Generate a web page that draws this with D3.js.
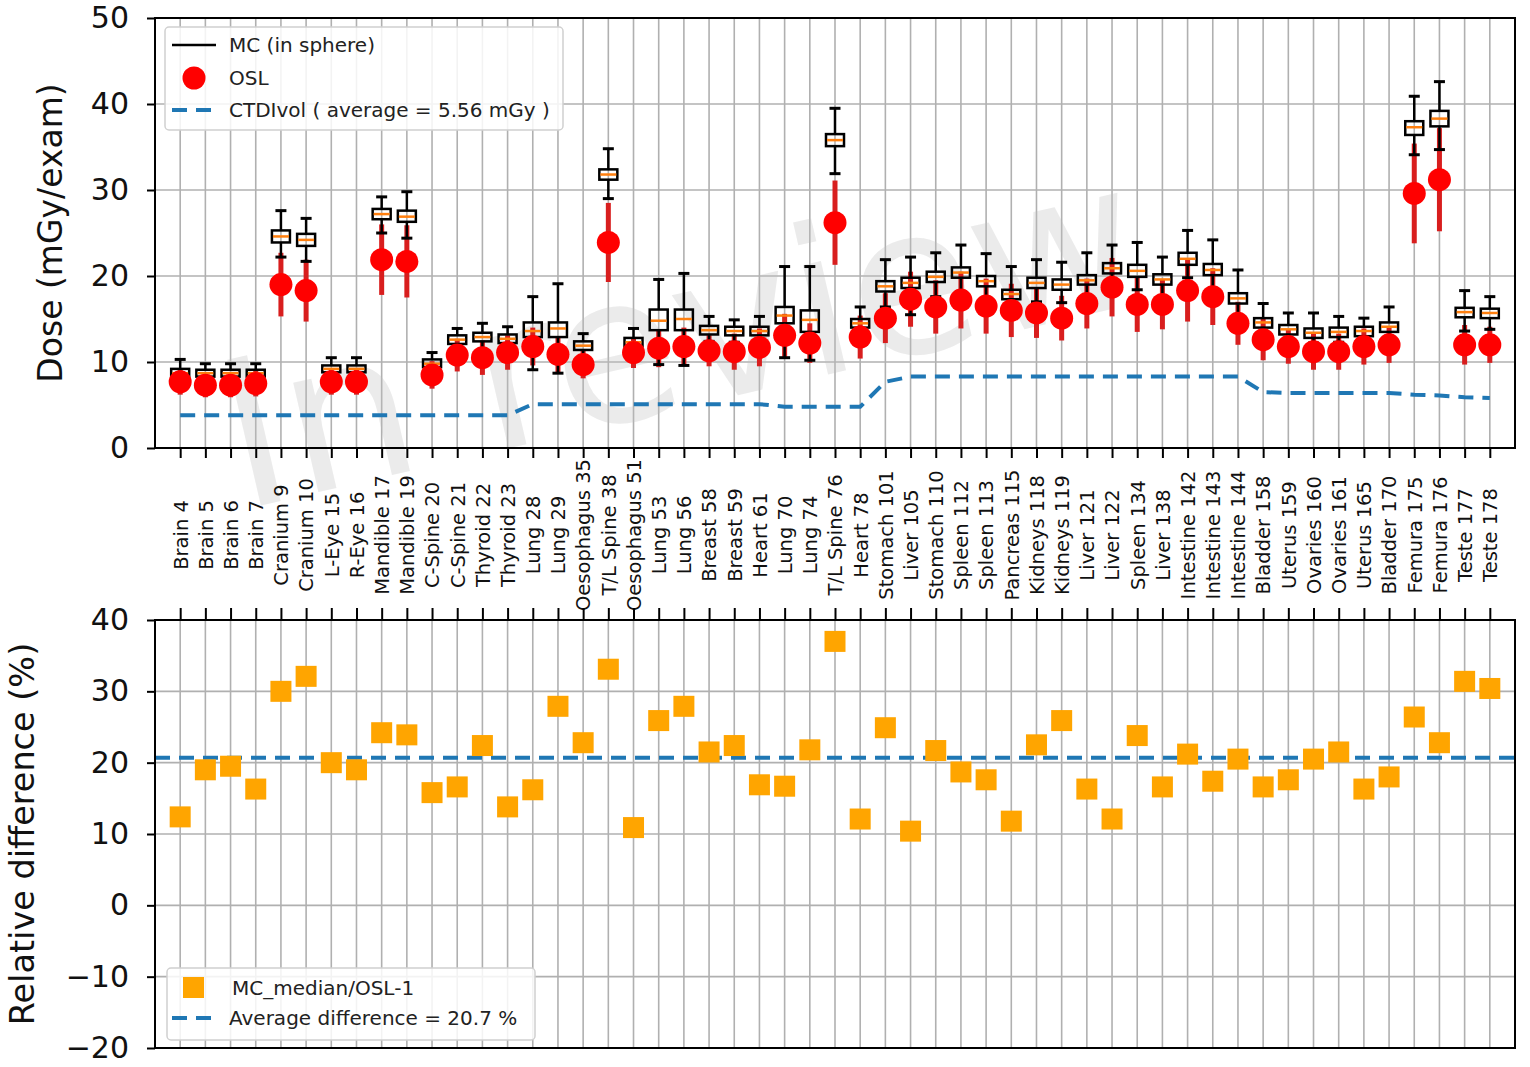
<!DOCTYPE html>
<html><head><meta charset="utf-8">
<script src="https://cdn.jsdelivr.net/npm/d3@7"></script>
<style>body{margin:0;background:#fff;} svg{display:block;} text{font-family:"DejaVu Sans",sans-serif;}</style>
</head><body><svg id="c" width="1530" height="1067"></svg>
<script>
const categories = ["Brain 4","Brain 5","Brain 6","Brain 7","Cranium 9","Cranium 10","L-Eye 15","R-Eye 16","Mandible 17","Mandible 19","C-Spine 20","C-Spine 21","Thyroid 22","Thyroid 23","Lung 28","Lung 29","Oesophagus 35","T/L Spine 38","Oesophagus 51","Lung 53","Lung 56","Breast 58","Breast 59","Heart 61","Lung 70","Lung 74","T/L Spine 76","Heart 78","Stomach 101","Liver 105","Stomach 110","Spleen 112","Spleen 113","Pancreas 115","Kidneys 118","Kidneys 119","Liver 121","Liver 122","Spleen 134","Liver 138","Intestine 142","Intestine 143","Intestine 144","Bladder 158","Uterus 159","Ovaries 160","Ovaries 161","Uterus 165","Bladder 170","Femura 175","Femura 176","Teste 177","Teste 178"];
const osl = [7.7,7.3,7.3,7.5,19.0,18.3,7.7,7.7,21.9,21.7,8.5,10.8,10.5,11.1,11.8,10.9,9.7,23.9,11.1,11.6,11.8,11.3,11.2,11.7,13.1,12.2,26.2,12.9,15.1,17.3,16.4,17.2,16.5,16.0,15.7,15.1,16.8,18.7,16.7,16.7,18.3,17.6,14.5,12.6,11.8,11.2,11.2,11.8,12.0,29.6,31.2,12.0,12.0];
const oslErr = [1.5,1.4,1.4,1.5,3.7,3.6,1.5,1.5,4.1,4.2,1.6,1.9,2.0,2.0,2.2,2.1,1.6,4.6,1.8,2.2,2.2,1.8,2.1,2.2,2.5,2.3,4.9,2.5,2.9,3.2,3.1,3.3,3.2,3.1,2.9,2.6,2.9,3.4,3.2,2.9,3.6,3.3,2.5,2.4,2.0,2.1,2.1,2.1,2.1,5.8,6.0,2.3,2.1];
const mcMedian = [8.7,8.7,8.7,8.7,24.6,24.2,9.2,9.2,27.2,26.9,9.8,12.6,12.9,12.7,13.6,13.9,11.9,31.8,12.3,14.8,15.0,13.7,13.6,13.6,15.4,14.9,35.8,14.5,18.8,19.2,19.9,20.4,19.4,17.9,19.2,19.0,19.5,20.9,20.6,19.6,22.0,20.7,17.4,14.6,13.8,13.4,13.5,13.6,14.1,37.3,38.3,15.8,15.7];
const mcQ1 = [8.3,8.3,8.3,8.3,23.9,23.5,8.8,8.8,26.6,26.3,9.4,12.1,12.4,12.2,12.9,12.9,11.4,31.2,11.8,13.7,13.7,13.2,13.1,13.1,14.5,13.5,35.1,14.0,18.2,18.6,19.3,19.8,18.8,17.3,18.6,18.4,19.0,20.3,19.9,19.0,21.3,20.1,16.8,14.0,13.2,12.8,12.9,13.0,13.5,36.4,37.4,15.2,15.1];
const mcQ3 = [9.2,9.1,9.1,9.1,25.3,24.9,9.6,9.6,27.8,27.6,10.3,13.1,13.4,13.2,14.6,14.6,12.4,32.4,12.8,16.1,16.1,14.2,14.1,14.1,16.4,16.0,36.5,15.0,19.4,19.8,20.5,21.0,20.0,18.4,19.8,19.6,20.1,21.5,21.3,20.2,22.7,21.4,18.0,15.1,14.3,13.9,14.0,14.1,14.6,38.0,39.2,16.3,16.2];
const mcLow = [7.4,7.3,7.3,7.4,22.2,21.7,8.0,8.0,25.0,24.4,8.6,11.3,11.4,11.3,9.1,8.7,10.6,29.0,10.9,9.7,9.6,12.4,12.3,12.2,10.5,10.2,31.9,13.0,16.4,15.5,17.6,18.2,17.2,15.6,17.0,16.9,17.5,19.0,18.4,17.6,19.8,18.4,15.4,13.0,12.5,12.2,12.3,12.5,12.8,34.1,34.7,13.6,13.8];
const mcHigh = [10.3,9.8,9.8,9.8,27.6,26.7,10.5,10.5,29.2,29.8,11.1,13.9,14.5,14.1,17.6,19.1,13.3,34.8,13.9,19.6,20.3,15.3,14.9,15.3,21.1,21.1,39.5,16.4,21.9,22.2,22.7,23.6,22.6,21.1,21.9,21.6,22.7,23.6,23.9,22.2,25.3,24.2,20.7,16.8,15.7,15.7,15.3,15.1,16.4,40.9,42.6,18.3,17.6];
const ctdiVol = [3.8,3.8,3.8,3.8,3.8,3.8,3.8,3.8,3.8,3.8,3.8,3.8,3.8,3.8,5.1,5.1,5.1,5.1,5.1,5.1,5.1,5.1,5.1,5.1,4.8,4.8,4.8,4.8,7.7,8.3,8.3,8.3,8.3,8.3,8.3,8.3,8.3,8.3,8.3,8.3,8.3,8.3,8.3,6.5,6.4,6.4,6.4,6.4,6.4,6.2,6.1,5.9,5.8];
const relDiff = [12.4,19.0,19.5,16.3,30.0,32.1,20.0,19.0,24.2,23.9,15.8,16.6,22.4,13.8,16.2,27.9,22.8,33.1,10.9,25.9,27.9,21.5,22.4,16.9,16.7,21.8,37.0,12.1,24.9,10.4,21.7,18.7,17.6,11.8,22.5,25.9,16.3,12.1,23.8,16.6,21.2,17.4,20.5,16.6,17.6,20.5,21.5,16.3,18.0,26.4,22.8,31.4,30.4];
const avgDiff = 20.7;
const topTicks = [0,10,20,30,40,50];
const botTicks = [-20,-10,0,10,20,30,40];
const legendTop = ["MC (in sphere)","OSL","CTDIvol ( average = 5.56 mGy )"];
const legendBot = ["MC_median/OSL-1","Average difference = 20.7 %"];

const svg = d3.select("#c");
const L = 155, R = 1515;
const x = d3.scalePoint().domain(categories).range([L, R]).padding(1);
const yT = d3.scaleLinear().domain([0, 50]).range([448, 18]);
const yB = d3.scaleLinear().domain([-20, 40]).range([1048, 620]);
const GRID = "#b0b0b0", BLUE = "#1f77b4";

function grid(y, ticks) {
  const g = svg.append("g");
  g.selectAll(".v").data(categories).join("line")
    .attr("x1", d => x(d)).attr("x2", d => x(d))
    .attr("y1", y.range()[1]).attr("y2", y.range()[0])
    .attr("stroke", GRID).attr("stroke-width", 1.6);
  g.selectAll(".h").data(ticks).join("line")
    .attr("x1", L).attr("x2", R).attr("y1", d => y(d)).attr("y2", d => y(d))
    .attr("stroke", GRID).attr("stroke-width", 1.6);
}
function frame(y) {
  svg.append("rect").attr("x", L).attr("y", y.range()[1]).attr("width", R - L)
    .attr("height", y.range()[0] - y.range()[1]).attr("fill", "none")
    .attr("stroke", "#000").attr("stroke-width", 2);
}
function leftAxis(y, ticks) {
  const g = svg.append("g").attr("transform", `translate(${L},0)`)
    .call(d3.axisLeft(y).tickValues(ticks).tickSize(8).tickPadding(18).tickFormat(d3.format("d")));
  g.select(".domain").remove();
  g.selectAll("line").attr("stroke-width", 2);
  g.selectAll("text").attr("font-size", 30).attr("fill", "#111").attr("font-family", "DejaVu Sans");
}

// ---------- TOP ----------
grid(yT, topTicks);

// watermark (faint, beneath data)
svg.append("text").attr("transform", "translate(680,335) rotate(-13)")
  .attr("text-anchor", "middle").attr("dy", "0.35em")
  .attr("font-family", "Liberation Serif, serif").attr("font-size", 205)
  .attr("fill", "#bdbdbd").attr("fill-opacity", 0.3).text("In review");

// CTDIvol dashed
svg.append("path").datum(ctdiVol)
  .attr("d", d3.line().x((d, i) => x(categories[i])).y(d => yT(d)))
  .attr("fill", "none").attr("stroke", BLUE).attr("stroke-width", 4).attr("stroke-dasharray", "15,9");

// OSL error bars
svg.append("g").selectAll("line").data(categories).join("line")
  .attr("x1", d => x(d)).attr("x2", d => x(d))
  .attr("y1", (d, i) => yT(osl[i] - oslErr[i])).attr("y2", (d, i) => yT(osl[i] + oslErr[i]))
  .attr("stroke", "#d81e1e").attr("stroke-width", 5);

// MC whiskers
const mc = svg.append("g");
const BW = 18, CW = 11;
mc.selectAll(".wl").data(categories).join("line")
  .attr("x1", d => x(d)).attr("x2", d => x(d))
  .attr("y1", (d, i) => yT(mcLow[i])).attr("y2", (d, i) => yT(mcQ1[i]))
  .attr("stroke", "#000").attr("stroke-width", 2.5);
mc.selectAll(".wh").data(categories).join("line")
  .attr("x1", d => x(d)).attr("x2", d => x(d))
  .attr("y1", (d, i) => yT(mcQ3[i])).attr("y2", (d, i) => yT(mcHigh[i]))
  .attr("stroke", "#000").attr("stroke-width", 2.5);
mc.selectAll(".cl").data(categories).join("line")
  .attr("x1", d => x(d) - CW / 2).attr("x2", d => x(d) + CW / 2)
  .attr("y1", (d, i) => yT(mcLow[i])).attr("y2", (d, i) => yT(mcLow[i]))
  .attr("stroke", "#000").attr("stroke-width", 3);
mc.selectAll(".ch").data(categories).join("line")
  .attr("x1", d => x(d) - CW / 2).attr("x2", d => x(d) + CW / 2)
  .attr("y1", (d, i) => yT(mcHigh[i])).attr("y2", (d, i) => yT(mcHigh[i]))
  .attr("stroke", "#000").attr("stroke-width", 3);

// OSL circles
svg.append("g").selectAll("circle").data(categories).join("circle")
  .attr("cx", d => x(d)).attr("cy", (d, i) => yT(osl[i])).attr("r", 11.5)
  .attr("fill", "#ff0000");

// MC boxes + median
mc.append("g").selectAll("rect").data(categories).join("rect")
  .attr("x", d => x(d) - BW / 2).attr("width", BW)
  .attr("y", (d, i) => yT(mcQ3[i])).attr("height", (d, i) => yT(mcQ1[i]) - yT(mcQ3[i]))
  .attr("fill", "none").attr("stroke", "#000").attr("stroke-width", 2.5);
mc.append("g").selectAll("line").data(categories).join("line")
  .attr("x1", d => x(d) - BW / 2 + 1).attr("x2", d => x(d) + BW / 2 - 1)
  .attr("y1", (d, i) => yT(mcMedian[i])).attr("y2", (d, i) => yT(mcMedian[i]))
  .attr("stroke", "#ff7f0e").attr("stroke-width", 2.5);

frame(yT);
leftAxis(yT, topTicks);

// bottom category axis of top plot
const xa = svg.append("g").attr("transform", "translate(0,448)")
  .call(d3.axisBottom(x).tickSize(10).tickPadding(0));
xa.select(".domain").remove();
xa.selectAll("line").attr("stroke-width", 2);
xa.selectAll("text").attr("y", 0).attr("dy", "0.35em").attr("x", 0)
  .attr("transform", "translate(0,87) rotate(-90)")
  .attr("text-anchor", "middle").attr("font-size", 19.5).attr("fill", "#111")
  .attr("font-family", "DejaVu Sans");

svg.append("text").attr("transform", "translate(50,233) rotate(-90)")
  .attr("text-anchor", "middle").attr("dy", "0.35em").attr("font-size", 33).attr("fill", "#111")
  .text("Dose (mGy/exam)");

// legend top
const lg = svg.append("g");
lg.append("rect").attr("x", 165).attr("y", 27).attr("width", 398).attr("height", 103).attr("rx", 4)
  .attr("fill", "#fff").attr("fill-opacity", 0.85).attr("stroke", "#d0d0d0").attr("stroke-width", 1.5);
lg.append("line").attr("x1", 172).attr("x2", 216).attr("y1", 45).attr("y2", 45).attr("stroke", "#000").attr("stroke-width", 2.5);
lg.append("circle").attr("cx", 194).attr("cy", 78).attr("r", 11.5).attr("fill", "#ff0000");
lg.append("line").attr("x1", 172).attr("x2", 216).attr("y1", 110).attr("y2", 110).attr("stroke", BLUE).attr("stroke-width", 4).attr("stroke-dasharray", "15,9");
lg.selectAll("text").data(legendTop).join("text")
  .attr("x", 229).attr("y", (d, i) => [45, 78, 110][i]).attr("dy", "0.35em")
  .attr("font-size", 20).attr("fill", "#222").text(d => d);

// ---------- BOTTOM ----------
grid(yB, botTicks);
svg.append("line").attr("x1", L).attr("x2", R).attr("y1", yB(avgDiff)).attr("y2", yB(avgDiff))
  .attr("stroke", BLUE).attr("stroke-width", 4).attr("stroke-dasharray", "15,9");
svg.append("g").selectAll("rect").data(categories).join("rect")
  .attr("x", d => x(d) - 10.5).attr("y", (d, i) => yB(relDiff[i]) - 10.5)
  .attr("width", 21).attr("height", 21).attr("fill", "#ffa500");
frame(yB);
leftAxis(yB, botTicks);
const xt = svg.append("g").attr("transform", "translate(0,620)")
  .call(d3.axisTop(x).tickSize(12).tickFormat(""));
xt.select(".domain").remove();
xt.selectAll("line").attr("stroke-width", 2);

svg.append("text").attr("transform", "translate(22,834) rotate(-90)")
  .attr("text-anchor", "middle").attr("dy", "0.35em").attr("font-size", 33.5).attr("fill", "#111")
  .text("Relative difference (%)");

const lb = svg.append("g");
lb.append("rect").attr("x", 167).attr("y", 968).attr("width", 368).attr("height", 72).attr("rx", 4)
  .attr("fill", "#fff").attr("fill-opacity", 0.85).attr("stroke", "#d0d0d0").attr("stroke-width", 1.5);
lb.append("rect").attr("x", 183).attr("y", 977).attr("width", 21).attr("height", 21).attr("fill", "#ffa500");
lb.append("line").attr("x1", 172).attr("x2", 216).attr("y1", 1018).attr("y2", 1018).attr("stroke", BLUE).attr("stroke-width", 4).attr("stroke-dasharray", "15,9");
lb.selectAll("text").data(legendBot).join("text")
  .attr("x", (d, i) => [232, 229][i]).attr("y", (d, i) => [988, 1018][i]).attr("dy", "0.35em")
  .attr("font-size", 20).attr("fill", "#222").text(d => d);
</script></body></html>
